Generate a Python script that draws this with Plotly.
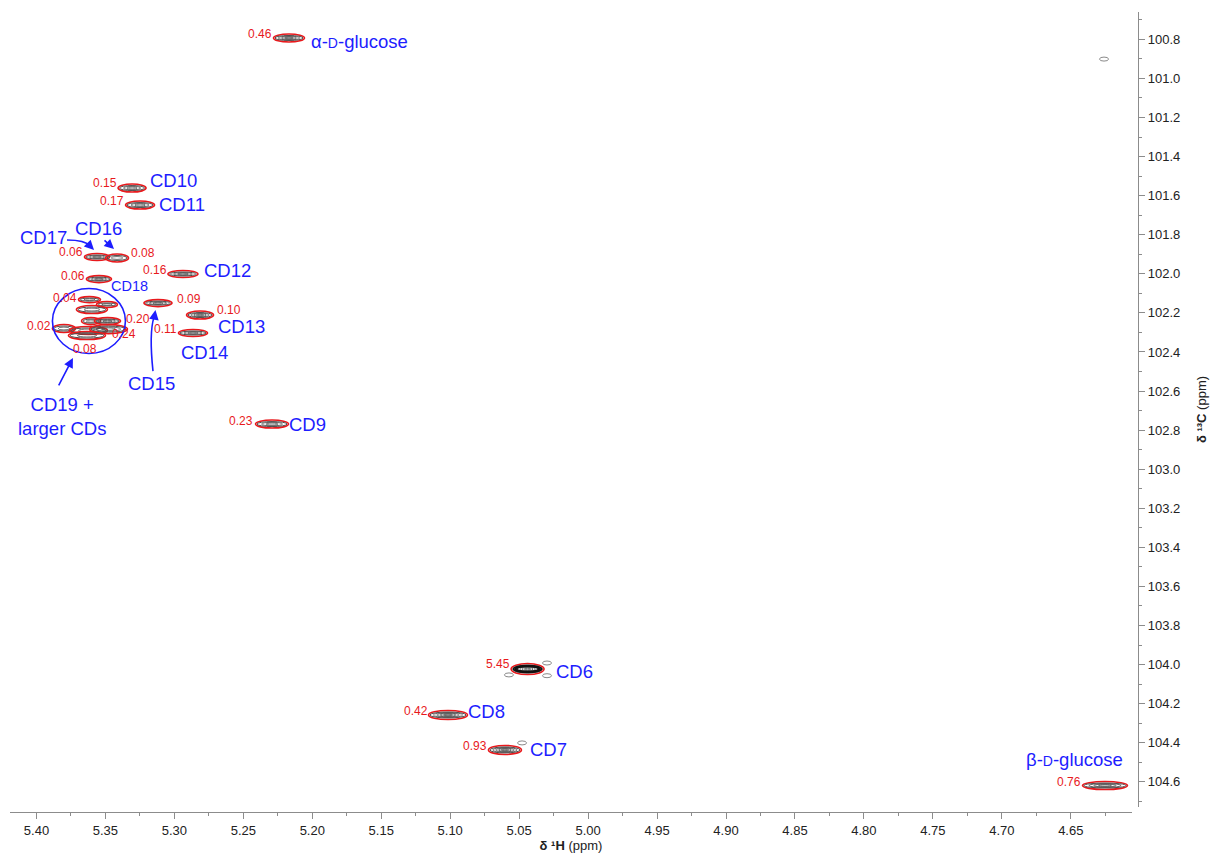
import plotly.graph_objects as go

# ---------------------------------------------------------------
# Anomeric region of an HSQC spectrum: cyclodextrin (CD) and glucose
# cross-peaks.  Shifts in ppm (1H, 13C) and relative peak volumes.
# ---------------------------------------------------------------
peak_ids = [
    "a-glc", "CD10", "CD11", "CD17", "CD16", "CD18", "CD12", "CD15",
    "CD13", "CD14", "CD9", "CD6", "CD8", "CD7", "b-glc",
    "L1", "L2", "L3", "L4", "L5", "L6", "L7", "L8", "L9",
]
h_ppm = [
    5.2169, 5.3307, 5.3249, 5.3561, 5.3416, 5.3547, 5.2938, 5.3119,
    5.2814, 5.2865, 5.2292, 5.0439, 5.1016, 5.0603, 4.6252,
    5.3616, 5.3489, 5.3598, 5.3605, 5.3485, 5.3801, 5.3623, 5.3478, 5.3634,
]
c_ppm = [
    100.793, 101.561, 101.648, 101.914, 101.919, 102.027, 102.001, 102.150,
    102.211, 102.303, 102.769, 104.023, 104.258, 104.437, 104.619,
    102.132, 102.157, 102.183, 102.242, 102.242, 102.280, 102.290, 102.283, 102.316,
]
volumes = [
    0.46, 0.15, 0.17, 0.06, 0.08, 0.06, 0.16, 0.09,
    0.10, 0.11, 0.23, 5.45, 0.42, 0.93, 0.76,
    0.04, None, None, None, 0.20, 0.02, None, 0.24, 0.08,
]
cluster_ids = ["L1", "L2", "L3", "L4", "L5", "L6", "L7", "L8", "L9"]

# weak unassigned / artefact signals
weak_h = [4.6259, 5.0298, 5.0298, 5.0574, 5.0479]
weak_c = [100.901, 103.992, 104.057, 104.053, 104.401]

# assignment labels
label_text = {
    "a-glc": "α-<span style='font-size:14px'>D</span>-glucose",
    "b-glc": "β-<span style='font-size:14px'>D</span>-glucose",
    "CD10": "CD10", "CD11": "CD11", "CD17": "CD17", "CD16": "CD16",
    "CD18": "CD18", "CD12": "CD12", "CD13": "CD13", "CD14": "CD14",
    "CD15": "CD15", "CD9": "CD9", "CD6": "CD6", "CD8": "CD8", "CD7": "CD7",
}
cluster_label = "CD19 +<br>larger CDs"

x_ticks_range = [5.4192, 4.6056]
y_ticks_range = [104.729, 100.660]

# ---------------------------------------------------------------
# drawing styles (pixel sizes of contours, label offsets)
# ---------------------------------------------------------------
# contour ellipse size in px (w, h) and number of inner contour rings
contour_style = {
    "a-glc": (30, 7, 3), "CD10": (27, 7, 2), "CD11": (28, 7, 2),
    "CD17": (24, 6, 2), "CD16": (22, 7, 1), "CD18": (24, 6, 2),
    "CD12": (29, 6, 2), "CD15": (27, 6, 2), "CD13": (26, 7, 3),
    "CD14": (28, 6, 2), "CD9": (32, 7, 2), "CD6": (32, 10, 5),
    "CD8": (38, 8, 4), "CD7": (32, 8, 4), "b-glc": (44, 7, 3),
    "L1": (21, 5, 1), "L2": (20, 5, 1), "L3": (30, 7, 1), "L4": (18, 6, 1),
    "L5": (25, 6, 2), "L6": (22, 7, 1), "L7": (37, 7, 1), "L8": (37, 8, 2),
    "L9": (36, 7, 1),
}
# volume label offsets (dx right, dy down) in px from the peak
volume_offset = {
    "a-glc": (-28.5, -4), "CD10": (-27, -5), "CD11": (-28.5, -4),
    "CD17": (-26, -5), "CD16": (25.5, -5), "CD18": (-25.5, -3),
    "CD12": (-28, -4), "CD15": (31, -4), "CD13": (29, -5.5), "CD14": (-28, -4),
    "CD9": (-31, -3), "CD6": (-29.5, -5), "CD8": (-32, -4), "CD7": (-30, -4),
    "b-glc": (-35.5, -3.5), "L1": (-24.5, -1.5), "L5": (30, -2),
    "L6": (-24.5, -3), "L8": (16, 5), "L9": (-2, 13.5),
}
# assignment label offsets (dx, dy) in px and font size
name_offset = {
    "a-glc": (71, 4, 18.5), "CD10": (41, -8, 18.5), "CD11": (42, -1, 18.5),
    "CD17": (-54, -20, 18.5), "CD16": (-19, -29, 18.5), "CD18": (31, 7, 14.5),
    "CD12": (45, -4, 18.5), "CD13": (41, 11, 18.5), "CD14": (11, 19, 18.5),
    "CD15": (-6, 80, 18.5), "CD9": (35, 0, 18.5), "CD6": (47, 2, 18.5),
    "CD8": (38, -3, 18.5), "CD7": (44, 0, 18.5), "b-glc": (-30, -26.5, 18.5),
}

RED = "#e8191c"
BLUE = "#1d1dff"
FONT = "Arial, Liberation Sans, sans-serif"

pos = {pid: (h, c) for pid, h, c in zip(peak_ids, h_ppm, c_ppm)}

fig = go.Figure()
# empty trace to create the axes
fig.add_trace(go.Scatter(x=[h_ppm[0]], y=[c_ppm[0]], mode="markers",
                         marker=dict(opacity=0), hoverinfo="skip", showlegend=False))

shapes = []
annotations = []


def ellipse(h, c, w, hh, color, width, dx=0.0, dy=0.0):
    return dict(type="circle", xref="x", yref="y", xsizemode="pixel", ysizemode="pixel",
                xanchor=h, yanchor=c, x0=dx - w / 2, x1=dx + w / 2,
                y0=dy - hh / 2, y1=dy + hh / 2, line=dict(color=color, width=width),
                layer="above")


# peak contours: red outermost level, grey/black inner levels
for pid, h, c in zip(peak_ids, h_ppm, c_ppm):
    w, hh, rings = contour_style[pid]
    shapes.append(ellipse(h, c, w + 1, hh + 1, RED, 1.6))
    shapes.append(ellipse(h, c, w - 2, hh - 2, "#505050", 1.0))
    for k in range(1, rings + 1):
        f = 1 - k / (rings + 1.3)
        shapes.append(ellipse(h, c, max((w - 2) * f, 3), max((hh - 2) * f, 1.5), "#484848", 0.8))
    if pid == "CD6":
        for k in range(3):
            shapes.append(ellipse(h, c, w - 4 - 3 * k, hh - 3 - k, "#111111", 1.6))

for h, c in zip(weak_h, weak_c):
    shapes.append(ellipse(h, c, 9, 4, "#8a8a8a", 1.0))

# volume labels
for pid, v in zip(peak_ids, volumes):
    if v is None:
        continue
    dx, dy = volume_offset[pid]
    h, c = pos[pid]
    annotations.append(dict(x=h, y=c, xref="x", yref="y", text=f"{v:.2f}", showarrow=False,
                            xshift=dx, yshift=-dy, xanchor="center", yanchor="middle",
                            font=dict(family=FONT, size=12, color=RED)))

# assignment labels
for pid, txt in label_text.items():
    dx, dy, fs = name_offset[pid]
    h, c = pos[pid]
    annotations.append(dict(x=h, y=c, xref="x", yref="y", text=txt, showarrow=False,
                            xshift=dx, yshift=-dy, xanchor="center", yanchor="middle",
                            font=dict(family=FONT, size=fs, color=BLUE)))

# ring round the crowded region of CD19 and larger rings
cl_h = sum(pos[p][0] for p in cluster_ids) / len(cluster_ids)
cl_c = sum(pos[p][1] for p in cluster_ids) / len(cluster_ids)
shapes.append(dict(type="circle", xref="x", yref="y", xsizemode="pixel", ysizemode="pixel",
                   xanchor=cl_h, yanchor=cl_c, x0=-40.3, x1=32.7, y0=-33.6, y1=31.4,
                   line=dict(color=BLUE, width=1.6), layer="above"))
annotations.append(dict(x=cl_h, y=cl_c, xref="x", yref="y", text=cluster_label, showarrow=False,
                        xshift=-31, yshift=-97, align="center",
                        font=dict(family=FONT, size=18.5, color=BLUE)))
annotations.append(dict(x=cl_h, y=cl_c, xref="x", yref="y", text="", showarrow=True,
                        xshift=-19.8, yshift=-38, ax=-15, ay=29, arrowhead=2, arrowsize=1.2,
                        arrowwidth=1.6, arrowcolor=BLUE))

# CD16 pointer
h16, c16 = pos["CD16"]
annotations.append(dict(x=h16, y=c16, xref="x", yref="y", text="", showarrow=True,
                        xshift=-3, yshift=9, ax=-11, ay=-10, arrowhead=2, arrowsize=1.2,
                        arrowwidth=1.6, arrowcolor=BLUE))

# CD17 curved pointer
h17, c17 = pos["CD17"]
shapes.append(dict(type="path", xref="x", yref="y", xsizemode="pixel", ysizemode="pixel",
                   xanchor=h17, yanchor=c17, path="M -30,17 Q -12,17 -7,11",
                   line=dict(color=BLUE, width=1.6), layer="above"))
annotations.append(dict(x=h17, y=c17, xref="x", yref="y", text="", showarrow=True,
                        xshift=-3, yshift=7, ax=-5, ay=-5, arrowhead=2, arrowsize=1.2,
                        arrowwidth=1.6, arrowcolor=BLUE))

# CD15 curved pointer
h15, c15 = pos["CD15"]
shapes.append(dict(type="path", xref="x", yref="y", xsizemode="pixel", ysizemode="pixel",
                   xanchor=h15, yanchor=c15, path="M -5,-68 Q -9,-30 -4,-14",
                   line=dict(color=BLUE, width=1.6), layer="above"))
annotations.append(dict(x=h15, y=c15, xref="x", yref="y", text="", showarrow=True,
                        xshift=-2.5, yshift=-7, ax=-1.5, ay=9, arrowhead=2, arrowsize=1.2,
                        arrowwidth=1.6, arrowcolor=BLUE))

AXIS_GREY = "#8c8c8c"
fig.update_layout(
    width=1213, height=854,
    margin=dict(l=10, r=75, t=12, b=42, autoexpand=False),
    paper_bgcolor="white", plot_bgcolor="white",
    showlegend=False,
    shapes=shapes, annotations=annotations,
    font=dict(family=FONT, color="#222222"),
    xaxis=dict(
        range=x_ticks_range, domain=[0, 0.9947], anchor="free", position=0,
        automargin=False,
        showline=True, linecolor=AXIS_GREY, linewidth=1.2, mirror=False,
        ticks="outside", ticklen=6, tickcolor=AXIS_GREY, tickwidth=1,
        tick0=0, dtick=0.05, tickformat=".2f",
        minor=dict(ticks="outside", dtick=0.025, ticklen=3, tickcolor=AXIS_GREY),
        showgrid=False, zeroline=False,
        tickfont=dict(family=FONT, size=13, color="#222222"),
        title=dict(text="<b>δ ¹H</b> (ppm)", font=dict(family=FONT, size=13, color="#222222"),
                   standoff=4),
    ),
    yaxis=dict(
        range=y_ticks_range, domain=[0.00625, 1], anchor="free", position=1, side="right",
        automargin=False,
        showline=True, linecolor=AXIS_GREY, linewidth=1.2,
        ticks="outside", ticklen=6, tickcolor=AXIS_GREY, tickwidth=1,
        tick0=0, dtick=0.2, tickformat=".1f",
        minor=dict(ticks="outside", dtick=0.1, ticklen=3, tickcolor=AXIS_GREY),
        showgrid=False, zeroline=False,
        tickfont=dict(family=FONT, size=13, color="#222222"),
        title=dict(text="<b>δ ¹³C</b> (ppm)", font=dict(family=FONT, size=13, color="#222222"),
                   standoff=17),
    ),
)

fig.write_html("out.html")
